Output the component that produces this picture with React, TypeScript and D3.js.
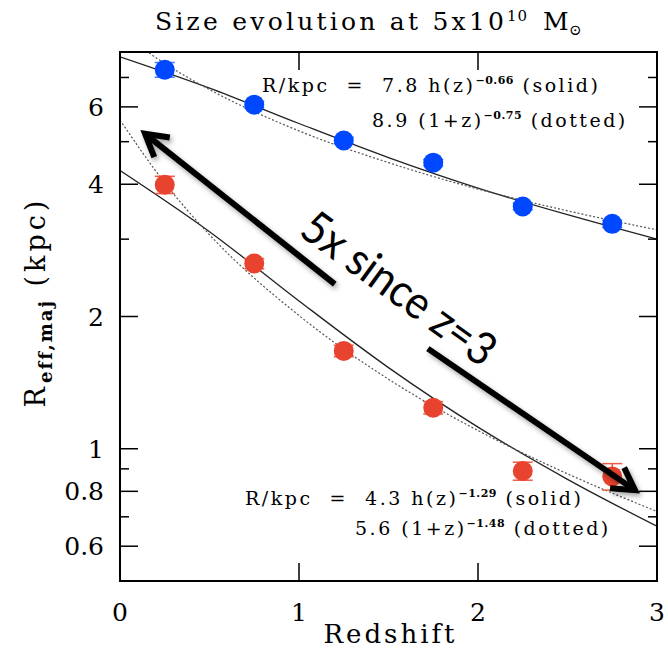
import React, { useRef, useEffect } from 'react';
import * as d3 from 'd3';

// binned sizes at fixed mass (kpc)
const zBins = [0.25, 0.75, 1.25, 1.75, 2.25, 2.75];
const blueR = [7.29, 6.07, 5.03, 4.48, 3.56, 3.25];
const blueErr = [0.28, 0.1, 0.08, 0.07, 0.06, 0.06];
const redR = [3.99, 2.64, 1.67, 1.24, 0.89, 0.865];
const redErr = [0.18, 0.07, 0.05, 0.04, 0.042, 0.06];

// fit curves
const solidZ = [0, 0.5, 1, 1.5, 2, 2.5, 3];
const blueSolid = [7.8, 6.62, 5.5, 4.6, 3.92, 3.41, 3.0];
const redSolid = [4.3, 3.12, 2.17, 1.53, 1.12, 0.852, 0.666];
const dottedZ = [0, 0.25, 0.5, 1, 1.5, 2, 2.5, 3];
const blueDotted = [8.9, 7.53, 6.57, 5.29, 4.48, 3.9, 3.48, 3.15];
const redDotted = [5.6, 4.03, 3.07, 2.01, 1.44, 1.1, 0.877, 0.72];

// axes
const xTicks = [0, 1, 2, 3];
const yMajor = [0.6, 0.8, 1, 2, 4, 6];
const yMinor = [0.7, 0.9, 3, 5, 7];

// the "5x since z=3" arrow, two pieces in (z, R)
const arrowUpZ = [0.14, 1.2];
const arrowUpR = [5.21, 2.37];
const arrowLoZ = [1.72, 2.877];
const arrowLoR = [1.69, 0.805];
const arrowTextZ = 1.56;
const arrowTextR = 2.32;

const W = 668;
const H = 655;
const margin = { top: 52, right: 11, bottom: 74, left: 120 };

const BLUE = '#0048ff';
const RED = '#e8432e';

const App = () => {
  const svgRef = useRef<SVGSVGElement>(null);

  useEffect(() => {
    const svg = d3.select(svgRef.current);
    svg.selectAll('*').remove();
    const serif = '"DejaVu Serif", serif';

    const x = d3.scaleLinear().domain([0, 3]).range([margin.left, W - margin.right]);
    const y = d3.scaleLog().domain([0.5, 8]).range([H - margin.bottom, margin.top]);
    const x0 = x(0), x1 = x(3), yb = y(0.5), yt = y(8);

    const defs = svg.append('defs');
    defs.append('clipPath').attr('id', 'plot')
      .append('rect').attr('x', x0).attr('y', yt).attr('width', x1 - x0).attr('height', yb - yt);
    const f = defs.append('filter').attr('id', 'shadow')
      .attr('x', '-20%').attr('y', '-20%').attr('width', '140%').attr('height', '140%');
    f.append('feDropShadow').attr('dx', 2).attr('dy', 3).attr('stdDeviation', 2.5)
      .attr('flood-color', '#000').attr('flood-opacity', 0.35);

    // fit lines
    const line = d3.line<[number, number]>()
      .x(d => x(d[0]))
      .y(d => y(d[1]))
      .curve(d3.curveMonotoneX);
    const curves = svg.append('g').attr('clip-path', 'url(#plot)');
    const fits = [
      { z: solidZ, r: blueSolid, dotted: false },
      { z: solidZ, r: redSolid, dotted: false },
      { z: dottedZ, r: blueDotted, dotted: true },
      { z: dottedZ, r: redDotted, dotted: true },
    ];
    fits.forEach(fit => {
      curves.append('path')
        .datum(fit.z.map((z, i) => [z, fit.r[i]] as [number, number]))
        .attr('fill', 'none')
        .attr('stroke', fit.dotted ? '#555' : '#222')
        .attr('stroke-width', fit.dotted ? 1.2 : 1.3)
        .attr('stroke-dasharray', fit.dotted ? '2,2' : null)
        .attr('d', line);
    });

    // points with error bars
    const series = [
      { r: blueR, e: blueErr, color: BLUE, bar: '#3f78ff' },
      { r: redR, e: redErr, color: RED, bar: '#ee5a45' },
    ];
    series.forEach(s => {
      const g = svg.append('g');
      zBins.forEach((z, i) => {
        const cx = x(z);
        const top = y(s.r[i] + s.e[i]);
        const bot = y(s.r[i] - s.e[i]);
        g.append('line').attr('x1', cx).attr('x2', cx).attr('y1', top).attr('y2', bot)
          .attr('stroke', s.bar).attr('stroke-width', 1.5);
        [top, bot].forEach(yy => {
          g.append('line').attr('x1', cx - 10).attr('x2', cx + 10).attr('y1', yy).attr('y2', yy)
            .attr('stroke', s.bar).attr('stroke-width', 1.5);
        });
        g.append('circle').attr('cx', cx).attr('cy', y(s.r[i])).attr('r', 10).attr('fill', s.color);
      });
    });

    // frame and ticks
    const axes = svg.append('g').attr('stroke', '#000');
    axes.append('rect').attr('x', x0).attr('y', yt).attr('width', x1 - x0).attr('height', yb - yt)
      .attr('fill', 'none').attr('stroke-width', 2);
    xTicks.slice(1, -1).forEach(t => {
      axes.append('line').attr('x1', x(t)).attr('x2', x(t)).attr('y1', yb).attr('y2', yb - 18).attr('stroke-width', 1.5);
      axes.append('line').attr('x1', x(t)).attr('x2', x(t)).attr('y1', yt).attr('y2', yt + 18).attr('stroke-width', 1.5);
    });
    [...yMajor.map(t => [t, 18]), ...yMinor.map(t => [t, 9])].forEach(([t, len]) => {
      axes.append('line').attr('x1', x0).attr('x2', x0 + len).attr('y1', y(t)).attr('y2', y(t)).attr('stroke-width', 1.5);
      axes.append('line').attr('x1', x1 - len).attr('x2', x1).attr('y1', y(t)).attr('y2', y(t)).attr('stroke-width', 1.5);
    });

    // tick labels
    svg.append('g').selectAll('text').data(xTicks).join('text')
      .attr('x', d => x(d)).attr('y', yb + 40)
      .attr('text-anchor', 'middle').attr('font-family', serif).attr('font-size', 25)
      .text(d => d3.format('d')(d));
    svg.append('g').selectAll('text').data(yMajor).join('text')
      .attr('x', x0 - 16).attr('y', d => y(d)).attr('dy', '0.36em')
      .attr('text-anchor', 'end').attr('font-family', serif).attr('font-size', 25)
      .text(d => String(d));

    // axis titles
    svg.append('text').attr('x', (x0 + x1) / 2 + 2).attr('y', 643)
      .attr('text-anchor', 'middle').attr('font-family', serif).attr('font-size', 26)
      .attr('letter-spacing', 3)
      .text('Redshift');
    const yl = svg.append('text').attr('transform', 'translate(45,302) rotate(-90)')
      .attr('text-anchor', 'middle').attr('font-family', serif).attr('font-size', 27)
      .attr('letter-spacing', 4);
    yl.append('tspan').text('R');
    yl.append('tspan').attr('font-size', 18).attr('font-weight', 'bold').attr('dy', 7).attr('letter-spacing', 2).text('eff,maj');
    yl.append('tspan').attr('dy', -7).text('\u00a0(kpc)');

    // title
    svg.append('text').attr('x', 155).attr('y', 30).attr('font-family', serif)
      .attr('font-size', 25).attr('textLength', 349).attr('lengthAdjust', 'spacing')
      .text('Size evolution at 5x10');
    svg.append('text').attr('x', 507).attr('y', 21).attr('font-family', serif).attr('font-size', 15)
      .attr('letter-spacing', 1).text('10');
    svg.append('text').attr('x', 543).attr('y', 30).attr('font-family', serif).attr('font-size', 25).text('M');
    svg.append('text').attr('x', 569).attr('y', 35).attr('font-family', serif).attr('font-size', 15).text('\u2299');

    // fit annotations
    const note = (px: number, py: number, pre: string, exp: string, post: string) => {
      const t = svg.append('text').attr('x', px).attr('y', py)
        .attr('font-family', serif).attr('font-size', 19).attr('letter-spacing', 2.5)
        .style('white-space', 'pre');
      t.append('tspan').text(pre);
      t.append('tspan').attr('font-size', 11).attr('font-weight', 'bold').attr('letter-spacing', 0.5).attr('dy', -8).text(exp);
      t.append('tspan').attr('dy', 8).text(post);
    };
    note(262, 92, 'R/kpc  =  7.8 h(z)', '\u22120.66', ' (solid)');
    note(372, 127, '8.9 (1+z)', '\u22120.75', ' (dotted)');
    note(245, 505, 'R/kpc  =  4.3 h(z)', '\u22121.29', ' (solid)');
    note(355, 535, '5.6 (1+z)', '\u22121.48', ' (dotted)');

    // arrow
    const arrow = svg.append('g').attr('filter', 'url(#shadow)')
      .attr('stroke', '#000').attr('stroke-width', 6).attr('fill', 'none')
      .attr('stroke-linecap', 'butt');
    const head = (tip: number[], dir: number) => {
      const L = 25, spread = Math.PI / 6;
      const a1 = dir + Math.PI - spread, a2 = dir + Math.PI + spread;
      arrow.append('path')
        .attr('stroke-linejoin', 'miter')
        .attr('d', `M${tip[0] + L * Math.cos(a1)},${tip[1] + L * Math.sin(a1)}L${tip[0]},${tip[1]}L${tip[0] + L * Math.cos(a2)},${tip[1] + L * Math.sin(a2)}`);
    };
    const up = arrowUpZ.map((z, i) => [x(z), y(arrowUpR[i])]);
    const lo = arrowLoZ.map((z, i) => [x(z), y(arrowLoR[i])]);
    arrow.append('line').attr('x1', up[0][0]).attr('y1', up[0][1]).attr('x2', up[1][0]).attr('y2', up[1][1]);
    arrow.append('line').attr('x1', lo[0][0]).attr('y1', lo[0][1]).attr('x2', lo[1][0]).attr('y2', lo[1][1]);
    head(up[0], Math.atan2(up[0][1] - up[1][1], up[0][0] - up[1][0]));
    head(lo[1], Math.atan2(lo[1][1] - lo[0][1], lo[1][0] - lo[0][0]));

    svg.append('text')
      .attr('transform', `translate(${x(arrowTextZ)},${y(arrowTextR)}) rotate(36)`)
      .attr('text-anchor', 'middle').attr('dy', '0.35em')
      .attr('font-family', 'Lato, "Open Sans", sans-serif').attr('font-size', 46)
      .attr('textLength', 228).attr('lengthAdjust', 'spacingAndGlyphs')
      .text('5x since z=3');
  }, []);

  return (
    <svg ref={svgRef} width={W} height={H} style={{ position: 'absolute', left: 0, top: 0, background: '#fff' }}></svg>
  );
};

export default App;
